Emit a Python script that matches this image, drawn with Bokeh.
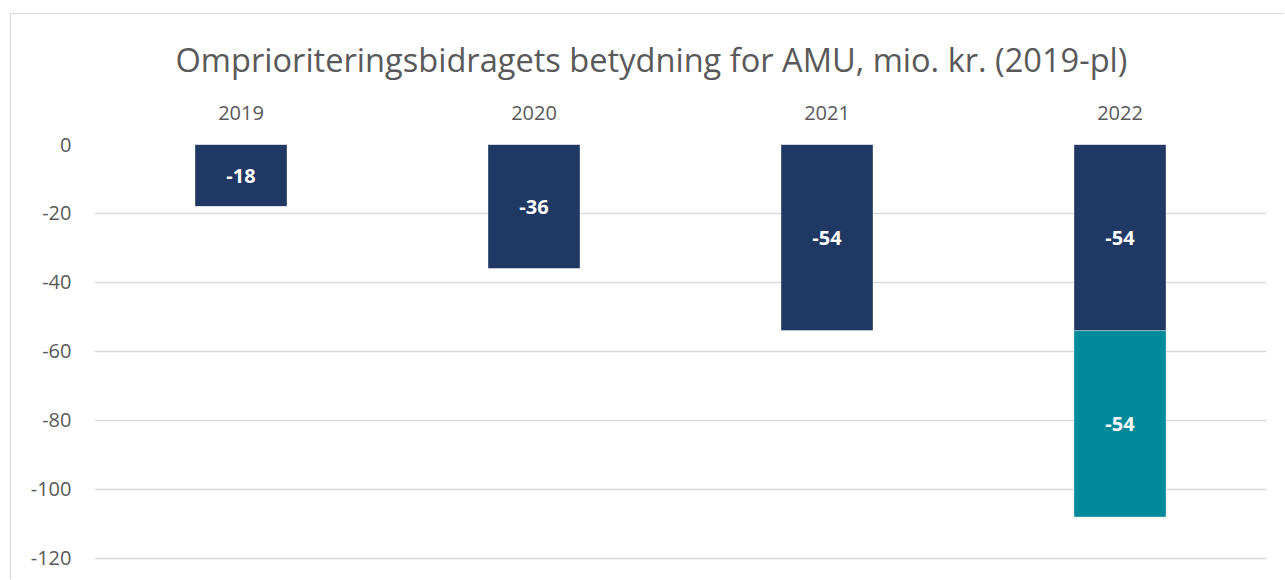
from bokeh.plotting import figure
from bokeh.models import FactorRange, Range1d, FixedTicker, ColumnDataSource, LabelSet
from bokeh.core.properties import value
from bokeh.embed import file_html
from bokeh.resources import INLINE

categories = ["2019", "2020", "2021", "2022"]
series_a = [-18, -36, -54, -54]
series_b = [0, 0, 0, -54]
y_ticks = [0, -20, -40, -60, -80, -100, -120]

FONT = "Open Sans"
GREY = "#595959"
NAVY = "#1F3864"
TEAL = "#008A9A"

p = figure(x_range=FactorRange(*categories, range_padding=0),
           y_range=Range1d(-126.4, 0),
           width=1274, height=566, output_backend="svg", toolbar_location=None,
           x_axis_location="above",
           min_border_left=83, min_border_right=19, min_border_top=130, min_border_bottom=0)
p.styles = {"margin-left": "10px", "margin-top": "13px",
            "border-left": "1px solid #D9D9D9", "border-top": "1px solid #D9D9D9"}

src = ColumnDataSource(dict(x=categories, a=series_a, b=series_b))
p.vbar_stack(["a", "b"], x="x", width=0.314, source=src, color=[NAVY, TEAL],
             line_color="white", line_width=0.6, line_alpha=0.6)

lx, ly, lt = [], [], []
for c, a, b in zip(categories, series_a, series_b):
    if a != 0:
        lx.append(c); ly.append(a / 2); lt.append(str(a))
    if b != 0:
        lx.append(c); ly.append(a + b / 2); lt.append(str(b))
lsrc = ColumnDataSource(dict(x=lx, y=ly, t=lt))
p.add_layout(LabelSet(x="x", y="y", text="t", source=lsrc, text_color="white",
                      text_font=value(FONT), text_font_size="20px", text_font_style="bold",
                      text_align="center", text_baseline="middle"))

p.title.text = "Omprioriteringsbidragets betydning for AMU, mio. kr. (2019-pl)"
p.title.align = "left"
p.title.offset = 81
p.title.standoff = 41
p.title.text_font = FONT
p.title.text_font_size = "32.6px"
p.title.text_font_style = "normal"
p.title.text_color = GREY

p.yaxis.ticker = FixedTicker(ticks=y_ticks)
p.yaxis.major_label_overrides = {t: str(t) for t in y_ticks}
for ax in (p.xaxis, p.yaxis):
    ax.axis_line_color = None
    ax.major_tick_line_color = None
    ax.minor_tick_line_color = None
    ax.major_label_text_font = FONT
    ax.major_label_text_font_size = "20px"
    ax.major_label_text_color = GREY
p.yaxis.major_label_standoff = 17
p.xaxis.major_label_standoff = 19

p.xgrid.grid_line_color = None
p.ygrid.grid_line_color = "#D9D9D9"
p.ygrid.grid_line_width = 1.5
p.outline_line_color = None

open("out.html", "w").write(file_html(p, INLINE))
